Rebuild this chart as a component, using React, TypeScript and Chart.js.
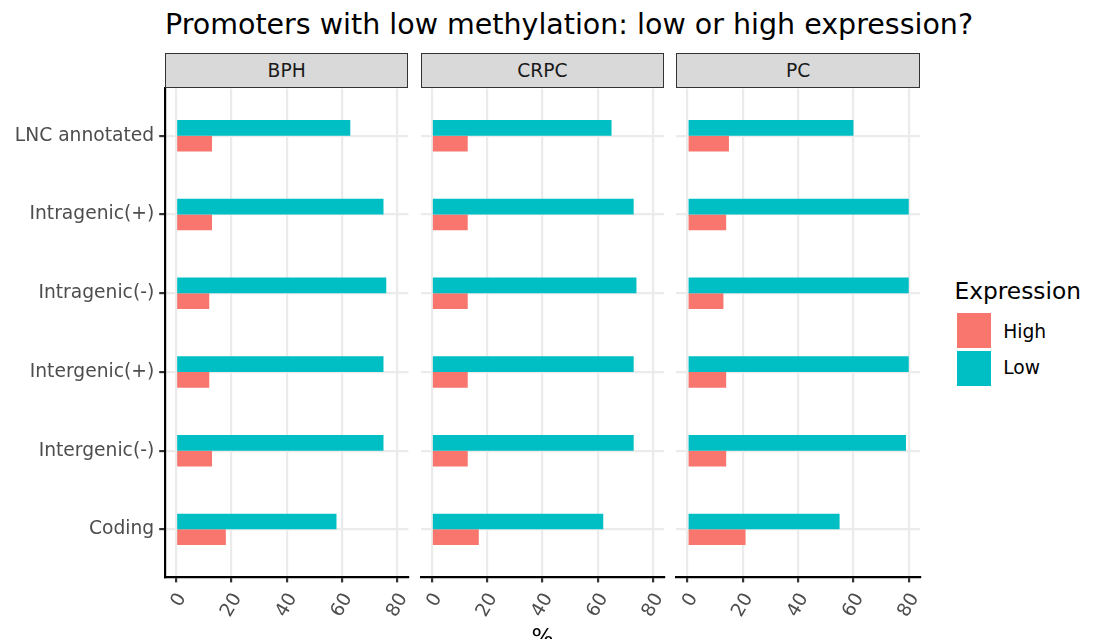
import { useEffect, useRef } from "react";
import { Chart, registerables } from "chart.js";

Chart.register(...registerables);

// Promoter classes, listed bottom to top along the vertical axis
const CATEGORIES = [
  "Coding",
  "Intergenic(-)",
  "Intergenic(+)",
  "Intragenic(-)",
  "Intragenic(+)",
  "LNC annotated",
];
const GROUPS = ["BPH", "CRPC", "PC"];
const SERIES = ["High", "Low"];

// Percent of low-methylation promoters, per class
const BPH_HIGH = [18, 13, 12, 12, 13, 13];
const BPH_LOW = [58, 75, 75, 76, 75, 63];
const CRPC_HIGH = [17, 13, 13, 13, 13, 13];
const CRPC_LOW = [62, 73, 73, 74, 73, 65];
const PC_HIGH = [21, 14, 14, 13, 14, 15];
const PC_LOW = [55, 79, 80, 80, 80, 60];

const X_TICKS = [0, 20, 40, 60, 80];

const HIGH_COLOR = "#F8766D";
const LOW_COLOR = "#00BFC4";
const SERIES_COLORS = [HIGH_COLOR, LOW_COLOR];

const FONT = '"DejaVu Sans", sans-serif';
const AXIS_TEXT = 18.7;
const GRID = "#EBEBEB";
const LINE_W = 2.2;

// facet geometry (page pixels)
const PANEL_LEFT = [165, 420.7, 676.4];
const PANEL_WIDTH = 243.4;
const PANEL_TOP = 88.6;
const PANEL_BOTTOM = 576.6;
const CANVAS_TOP = 80;
const CANVAS_HEIGHT = 560;
const CANVAS_LEFT = [0, 410, 666];

const HIGH_BY_GROUP = [BPH_HIGH, CRPC_HIGH, PC_HIGH];
const LOW_BY_GROUP = [BPH_LOW, CRPC_LOW, PC_LOW];

function Panel({ index }: { index: number }) {
  const ref = useRef<HTMLCanvasElement>(null);
  const left = CANVAS_LEFT[index];
  const right = Math.ceil(PANEL_LEFT[index] + PANEL_WIDTH + 8);
  const width = right - left;

  useEffect(() => {
    const first = index === 0;
    const yAxisWidth = first ? PANEL_LEFT[0] - left : 0;
    const padLeft = first ? 0 : PANEL_LEFT[index] - left;
    const padRight = right - (PANEL_LEFT[index] + PANEL_WIDTH);
    const padTop = PANEL_TOP - CANVAS_TOP;
    const xAxisHeight = CANVAS_TOP + CANVAS_HEIGHT - PANEL_BOTTOM;

    const high = HIGH_BY_GROUP[index];
    const low = LOW_BY_GROUP[index];

    const chart = new Chart(ref.current!, {
      type: "bar",
      data: {
        datasets: [
          {
            label: SERIES[1],
            data: low.map((v, i) => ({ x: v, y: i })),
            backgroundColor: LOW_COLOR,
            borderWidth: 0,
            barPercentage: 1,
            categoryPercentage: 0.4,
          },
          {
            label: SERIES[0],
            data: high.map((v, i) => ({ x: v, y: i })),
            backgroundColor: HIGH_COLOR,
            borderWidth: 0,
            barPercentage: 1,
            categoryPercentage: 0.4,
          },
        ],
      },
      options: {
        indexAxis: "y",
        animation: false,
        responsive: false,
        events: [],
        layout: { padding: { left: padLeft, right: padRight, top: padTop, bottom: 0 } },
        plugins: {
          legend: { display: false },
          tooltip: { enabled: false },
        },
        scales: {
          x: {
            type: "linear",
            min: -4,
            max: 84,
            afterBuildTicks: (scale: any) => {
              scale.ticks = X_TICKS.map((v) => ({ value: v }));
            },
            afterFit: (scale: any) => {
              scale.height = xAxisHeight;
              scale.paddingLeft = 0;
              scale.paddingRight = 0;
            },
            grid: {
              color: GRID,
              lineWidth: LINE_W,
              drawTicks: true,
              tickLength: 5.8,
              tickColor: "#333333",
              tickWidth: LINE_W,
            },
            border: { display: true, color: "#000000", width: LINE_W },
            ticks: {
              autoSkip: false,
              minRotation: 60,
              maxRotation: 60,
              padding: 7,
              labelOffset: 6,
              color: "#4D4D4D",
              font: { family: FONT, size: AXIS_TEXT },
              callback: (v: any) => String(v),
            },
          },
          y: {
            type: "linear",
            offset: false,
            min: -0.6,
            max: CATEGORIES.length - 0.4,
            afterBuildTicks: (scale: any) => {
              scale.ticks = CATEGORIES.map((_, i) => ({ value: i }));
            },
            afterFit: (scale: any) => {
              scale.width = yAxisWidth;
              scale.paddingTop = 0;
              scale.paddingBottom = 0;
            },
            grid: {
              offset: false,
              color: GRID,
              lineWidth: LINE_W,
              drawTicks: first,
              tickLength: 5.8,
              tickColor: "#333333",
              tickWidth: LINE_W,
            },
            border: { display: first, color: "#000000", width: LINE_W },
            ticks: {
              display: first,
              autoSkip: false,
              minRotation: 0,
              maxRotation: 0,
              padding: 5,
              color: "#4D4D4D",
              font: { family: FONT, size: AXIS_TEXT },
              callback: (v: any) => CATEGORIES[v as number],
            },
          },
        },
      },
    } as any);
    return () => chart.destroy();
  }, [index]);

  return (
    <canvas
      ref={ref}
      width={width}
      height={CANVAS_HEIGHT}
      style={{
        position: "absolute",
        left,
        top: CANVAS_TOP,
        width,
        height: CANVAS_HEIGHT,
      }}
    />
  );
}

export default function App() {
  return (
    <div
      style={{
        position: "absolute",
        left: 0,
        top: 0,
        width: 1094,
        height: 639,
        overflow: "hidden",
        background: "#ffffff",
        fontFamily: FONT,
      }}
    >
      <div
        style={{
          position: "absolute",
          left: 165,
          top: 10.6,
          fontSize: 28.5,
          lineHeight: "28.5px",
          color: "#000000",
          whiteSpace: "nowrap",
        }}
      >
        Promoters with low methylation: low or high expression?
      </div>

      {GROUPS.map((_, i) => (
        <Panel key={"p" + i} index={i} />
      ))}

      {GROUPS.map((g, i) => (
        <div
          key={"s" + i}
          style={{
            position: "absolute",
            left: PANEL_LEFT[i],
            top: 53.3,
            width: PANEL_WIDTH,
            height: 35,
            boxSizing: "border-box",
            background: "#D9D9D9",
            border: "1.1px solid #333333",
            display: "flex",
            alignItems: "center",
            justifyContent: "center",
            fontSize: AXIS_TEXT,
            color: "#1A1A1A",
          }}
        >
          {g}
        </div>
      ))}

      <div
        style={{
          position: "absolute",
          left: 165,
          width: 755,
          top: 625,
          textAlign: "center",
          fontSize: 23.3,
          lineHeight: "23.3px",
          color: "#000000",
        }}
      >
        %
      </div>

      <div
        style={{
          position: "absolute",
          left: 954.5,
          top: 278.6,
          fontSize: 23.3,
          lineHeight: "23.3px",
          color: "#000000",
        }}
      >
        Expression
      </div>
      {SERIES.map((s, i) => (
        <div key={"k" + i}>
          <div
            style={{
              position: "absolute",
              left: 957,
              top: 313.3 + i * 37.7,
              width: 34.3,
              height: 34.7,
              background: SERIES_COLORS[i],
            }}
          />
          <div
            style={{
              position: "absolute",
              left: 1003.2,
              top: 322.5 + i * 36,
              fontSize: AXIS_TEXT,
              lineHeight: AXIS_TEXT + "px",
              color: "#000000",
            }}
          >
            {s}
          </div>
        </div>
      ))}
    </div>
  );
}
